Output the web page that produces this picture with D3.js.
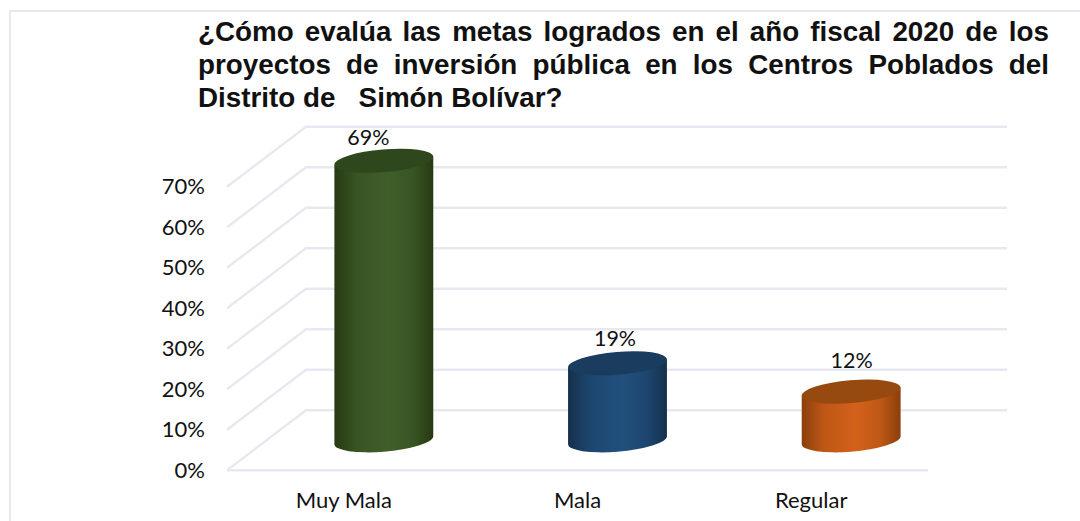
<!DOCTYPE html>
<html>
<head>
<meta charset="utf-8">
<script src="https://cdn.jsdelivr.net/npm/d3@7"></script>
<style>
  html, body { margin: 0; padding: 0; background: #fff; }
  svg { display: block; }
  text { fill: #111; }
</style>
</head>
<body>
<script>
const categories = ['Muy Mala', 'Mala', 'Regular'];
const values = [69, 19, 12];
const valueLabels = ['69%', '19%', '12%'];
const yTicks = [0, 10, 20, 30, 40, 50, 60, 70];
const titleLines = [
  '¿Cómo evalúa las metas logrados en el año fiscal 2020 de los',
  'proyectos de inversión pública en los Centros Poblados del',
  'Distrito de   Simón Bolívar?'
];
const sideColors = [
  ['#263a12', '#3f5f2a'],
  ['#14304c', '#21507e'],
  ['#8a3f0c', '#d4611a']
];
const topColors = ['#2f471d', '#1a3d5f', '#964a10'];

const width = 1080, height = 521;
const depthX = 79, depthY = 60;
const labelFont = 'Lato, "Open Sans", sans-serif';

const svg = d3.select('body').append('svg')
  .attr('width', width).attr('height', height);

// frame, only top and left are in the crop
svg.append('path')
  .attr('d', `M10,${height}V11H${width}`)
  .attr('fill', 'none').attr('stroke', '#e6e9f1').attr('stroke-width', 2);

const x = d3.scaleBand().domain(categories).range([227, 928]);
const y = d3.scaleLinear().domain([0, 70]).range([470.3, 186.7]);

// walls and floor
const grid = svg.append('g').attr('fill', 'none')
  .attr('stroke', '#e7e9f0').attr('stroke-width', 2.4);
yTicks.forEach(t => {
  grid.append('path')
    .attr('d', `M227,${y(t)}L${227 + depthX},${y(t) - depthY}H${928 + depthX}`);
});
grid.append('path').attr('d', `M227,${y(0)}H928`);

// axes
const yAxis = svg.append('g').attr('transform', 'translate(208,0)')
  .call(d3.axisLeft(y).tickValues(yTicks).tickSize(0).tickFormat(d => d + '%'));
const xAxis = svg.append('g').attr('transform', `translate(0,${y(0)})`)
  .call(d3.axisBottom(x).tickSize(0).tickPadding(22));
[yAxis, xAxis].forEach(a => {
  a.select('.domain').remove();
  a.selectAll('text').style('font', `22px ${labelFont}`).attr('fill', '#111');
});

// cylinders
const defs = svg.append('defs');
const rx = 49.6, ry = 11.4, tilt = 4.8;
const sinT = Math.sin(tilt * Math.PI / 180), cosT = Math.cos(tilt * Math.PI / 180);
const halfW = Math.sqrt(rx * rx * cosT * cosT + ry * ry * sinT * sinT);
const edgeDy = (rx * rx - ry * ry) * sinT * cosT / halfW;

categories.forEach((c, i) => {
  const cx = x(c) + x.bandwidth() / 2 + depthX / 2 + 0.5;
  const top = y(values[i]) - depthY / 2;
  const base = y(0) - depthY / 2;
  const mid = d3.interpolateRgb(sideColors[i][0], sideColors[i][1])(0.7);
  const grad = defs.append('linearGradient').attr('id', 'side' + i);
  grad.append('stop').attr('offset', '0%').attr('stop-color', sideColors[i][0]);
  grad.append('stop').attr('offset', '22%').attr('stop-color', mid);
  grad.append('stop').attr('offset', '55%').attr('stop-color', sideColors[i][1]);
  grad.append('stop').attr('offset', '80%').attr('stop-color', mid);
  grad.append('stop').attr('offset', '100%').attr('stop-color', sideColors[i][0]);

  svg.append('path')
    .attr('d', `M${cx - halfW},${top + edgeDy}V${base + edgeDy}` +
      `A${rx},${ry} ${-tilt} 0 0 ${cx + halfW},${base - edgeDy}V${top - edgeDy}Z`)
    .attr('fill', `url(#side${i})`);
  svg.append('ellipse')
    .attr('rx', rx).attr('ry', ry)
    .attr('transform', `translate(${cx},${top}) rotate(${-tilt})`)
    .attr('fill', topColors[i]);
});

// data labels sit where they were dragged in the original
const labelShiftX = [-15, -2, 1];
const labelShiftY = [-16, -17, -24];
categories.forEach((c, i) => {
  svg.append('text')
    .attr('x', x(c) + x.bandwidth() / 2 + depthX / 2 + labelShiftX[i])
    .attr('y', y(values[i]) - depthY / 2 + labelShiftY[i])
    .attr('text-anchor', 'middle')
    .style('font', `21.5px ${labelFont}`)
    .text(valueLabels[i]);
});

// title, first two lines justified between 198 and 1049
const titleLeft = 198, titleRight = 1049;
titleLines.forEach((line, i) => {
  const t = svg.append('text')
    .attr('x', titleLeft).attr('y', 41 + i * 33)
    .style('font', 'bold 27.8px "Liberation Sans", Arial, sans-serif')
    .style('white-space', 'pre')
    .text(line);
  if (i < 2) {
    const gaps = line.split(' ').length - 1;
    const extra = (titleRight - titleLeft - t.node().getComputedTextLength()) / gaps;
    t.style('word-spacing', extra + 'px');
  }
});
</script>
</body>
</html>
